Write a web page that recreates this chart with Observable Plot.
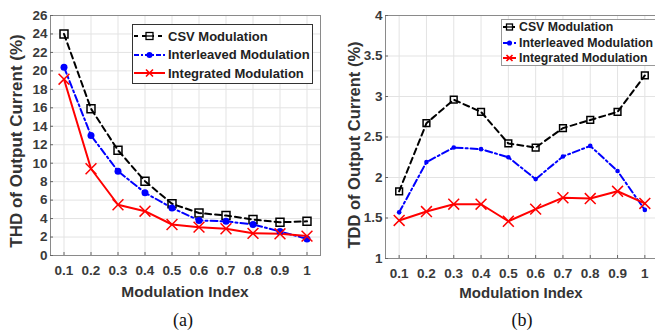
<!DOCTYPE html>
<html><head><meta charset="utf-8">
<script src="https://cdn.jsdelivr.net/npm/d3@7"></script>
<script src="https://cdn.jsdelivr.net/npm/@observablehq/plot@0.6"></script>
<style>
body{margin:0;background:#fff}
#wrap{position:relative;width:655px;height:331px;overflow:hidden;background:#fff;font-family:"Liberation Sans",Arial,sans-serif}
.abs{position:absolute;white-space:nowrap}
.lab{font-weight:bold;color:#333}
.cap{font-family:"Liberation Serif","Times New Roman",serif;font-size:18px;color:#111}
.leg{position:absolute;background:#fff;box-sizing:border-box}
.leg .row{position:absolute;left:0;display:flex;align-items:center;font-weight:bold;color:#222}
</style></head><body>
<div id="wrap"></div>
<script>
const modIndex = [0.1,0.2,0.3,0.4,0.5,0.6,0.7,0.8,0.9,1];
const xTickLabels = ["0.1","0.2","0.3","0.4","0.5","0.6","0.7","0.8","0.9","1"];
const seriesNames = ["CSV Modulation","Interleaved Modulation","Integrated Modulation"];
// THD (%) panel (a)
const thdCSV = [24.0,15.9,11.4,8.05,5.6,4.6,4.33,3.9,3.6,3.7];
const thdInterleaved = [20.4,13.0,9.13,6.8,5.15,3.8,3.7,3.36,2.6,1.8];
const thdIntegrated = [19.1,9.4,5.5,4.8,3.36,3.07,2.9,2.4,2.35,2.1];
const thdTicks = [0,2,4,6,8,10,12,14,16,18,20,22,24,26];
// TDD (%) panel (b)
const tddCSV = [1.83,2.67,2.96,2.81,2.42,2.37,2.61,2.71,2.81,3.26];
const tddInterleaved = [1.57,2.19,2.37,2.35,2.25,1.98,2.26,2.39,2.08,1.6];
const tddIntegrated = [1.47,1.58,1.67,1.67,1.46,1.61,1.75,1.74,1.83,1.68];
const tddTicks = [1,1.5,2,2.5,3,3.5,4];
const tddTickLabels = ["1","1.5","2","2.5","3","3.5","4"];

const wrap = document.getElementById("wrap");
const toRows = (vals) => modIndex.map((m,i)=>({m, v: vals[i]}));

function panel(opts){
  const {series, yDomain, yTicks, yFmt, left, ml, mr, mt, mb, sq, dotR, xR} = opts;
  const [csv, inter, integ] = series.map(toRows);
  const chart = Plot.plot({
    width: 330, height: 300,
    marginLeft: ml, marginRight: mr, marginTop: mt, marginBottom: mb,
    style: {fontFamily: "'Liberation Sans', Arial, sans-serif", fontSize: "13.5px", fontWeight: "bold", color: "#3a3a3a", background: "transparent", overflow: "visible"},
    x: {domain: [0.05, 1.05]},
    y: {domain: yDomain},
    marks: [
      Plot.gridX(modIndex, {stroke: "#e3e3e3", strokeOpacity: 1}),
      Plot.gridY(yTicks, {stroke: "#e3e3e3", strokeOpacity: 1}),
      Plot.frame({stroke: "#8a8a8a"}),
      Plot.axisX(modIndex, {tickSize: -3, tickPadding: 13, stroke: "#666", fontSize: 13.5, fontWeight: "bold", tickFormat: (d,i)=>xTickLabels[i], label: null}),
      Plot.axisY(yTicks, {tickSize: -3, tickPadding: 6, stroke: "#666", fontSize: 13.5, fontWeight: "bold", tickFormat: yFmt, label: null}),
      Plot.line(csv, {x: "m", y: "v", stroke: "black", strokeWidth: 2, strokeDasharray: "6,4"}),
      Plot.line(inter, {x: "m", y: "v", stroke: "blue", strokeWidth: 2, strokeDasharray: "7,3,2,3"}),
      Plot.line(integ, {x: "m", y: "v", stroke: "red", strokeWidth: 2}),
      Plot.dot(csv, {x: "m", y: "v", symbol: "square", r: sq, stroke: "black", strokeWidth: 1.5, fill: "none"}),
      Plot.dot(inter, {x: "m", y: "v", symbol: "circle", r: dotR, fill: "blue", stroke: "none"}),
      Plot.dot(integ, {x: "m", y: "v", symbol: "times", r: xR, stroke: "red", strokeWidth: 1.5})
    ]
  });
  chart.style.position = "absolute";
  chart.style.left = left + "px";
  chart.style.top = "0px";
  wrap.appendChild(chart);
}

panel({series: [thdCSV, thdInterleaved, thdIntegrated], yDomain: [0, 26], yTicks: thdTicks, yFmt: d=>String(d),
  left: 0, ml: 50, mr: 10, mt: 15, mb: 45, sq: 4.5, dotR: 3.5, xR: 5});
panel({series: [tddCSV, tddInterleaved, tddIntegrated], yDomain: [1, 4], yTicks: tddTicks, yFmt: (d,i)=>tddTickLabels[i],
  left: 330, ml: 55, mr: 2, mt: 15, mb: 42, sq: 3.8, dotR: 2.3, xR: 5});

function addText(txt, cls, cx, cy, size, rot){
  const d = document.createElement("div");
  d.className = "abs " + cls;
  d.textContent = txt;
  d.style.fontSize = size + "px";
  d.style.left = cx + "px"; d.style.top = cy + "px";
  d.style.transform = "translate(-50%,-50%)" + (rot ? " rotate(-90deg)" : "");
  wrap.appendChild(d);
}
addText("THD of Output Current (%)", "lab", 17, 141, 17, true);
addText("TDD of Output Current (%)", "lab", 354, 145, 16.5, true);
addText("Modulation Index", "lab", 185, 292, 15.5, false);
addText("Modulation Index", "lab", 521, 292, 15, false);
addText("(a)", "cap", 183, 320, 18, false);
addText("(b)", "cap", 522, 320, 18, false);

const styles = [
  {stroke: "black", dash: "4,4", sym: "square"},
  {stroke: "blue", dash: "5,2,2,2", sym: "circle"},
  {stroke: "red", dash: null, sym: "times"}
];
function legend({x, y, w, h, rowYs, lineW, font, border, symR}){
  const box = document.createElement("div");
  box.className = "leg";
  Object.assign(box.style, {left: x+"px", top: y+"px", width: w+"px", height: h+"px", border: "1px solid " + border});
  seriesNames.forEach((name, i) => {
    const row = document.createElement("div");
    row.className = "row";
    row.style.top = (rowYs[i] - y - 9) + "px";
    row.style.height = "18px";
    row.style.fontSize = font + "px";
    const svg = d3.create("svg").attr("width", lineW).attr("height", 18).style("flex", "none");
    const st = styles[i];
    svg.append("line").attr("x1", 1).attr("x2", lineW - 1).attr("y1", 9).attr("y2", 9)
      .attr("stroke", st.stroke).attr("stroke-width", 2).attr("stroke-dasharray", st.dash);
    const c = lineW / 2;
    if (st.sym === "square") {
      svg.append("rect").attr("x", c - symR).attr("y", 9 - symR).attr("width", 2*symR).attr("height", 2*symR)
        .attr("fill", "white").attr("stroke", "black").attr("stroke-width", 1.3);
      svg.append("line").attr("x1", c - symR).attr("x2", c + symR).attr("y1", 9).attr("y2", 9).attr("stroke", "black").attr("stroke-width", 1.3);
    } else if (st.sym === "circle") {
      svg.append("circle").attr("cx", c).attr("cy", 9).attr("r", symR * 0.85).attr("fill", "blue");
    } else {
      const s = symR;
      svg.append("path").attr("d", `M${c-s},${9-s}L${c+s},${9+s}M${c-s},${9+s}L${c+s},${9-s}`).attr("stroke", "red").attr("stroke-width", 1.6);
    }
    row.appendChild(svg.node());
    const t = document.createElement("span");
    t.textContent = name;
    t.style.marginLeft = "2px";
    row.appendChild(t);
    box.appendChild(row);
  });
  wrap.appendChild(box);
}
legend({x: 132, y: 24, w: 181, h: 60, rowYs: [35, 53.5, 72], lineW: 33, font: 13, border: "#333", symR: 3.5});
legend({x: 501, y: 19, w: 170, h: 47, rowYs: [26, 42, 57], lineW: 15, font: 12.3, border: "#999", symR: 3});
</script>
</body></html>
